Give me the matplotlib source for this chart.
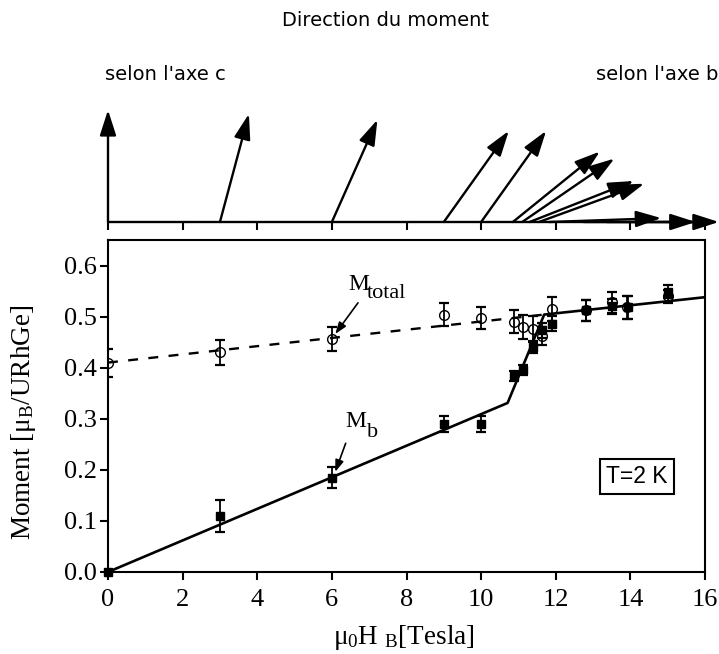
import matplotlib
matplotlib.use("Agg")
import matplotlib.pyplot as plt
import numpy as np

plt.rcParams['mathtext.fontset'] = 'custom'
plt.rcParams['mathtext.rm'] = 'Liberation Serif'
plt.rcParams['mathtext.it'] = 'Liberation Serif:italic'
plt.rcParams['mathtext.bf'] = 'Liberation Serif:bold'

# ---------------- data ----------------
field_total = [0, 3, 6, 9, 10, 10.87, 11.12, 11.38, 11.62, 11.89, 12.8, 13.52, 13.92, 15.0]
m_total = [0.409, 0.430, 0.456, 0.504, 0.497, 0.490, 0.480, 0.476, 0.462, 0.515, 0.512, 0.528, 0.518, 0.540]
err_total = [0.027, 0.025, 0.024, 0.023, 0.022, 0.023, 0.023, 0.025, 0.017, 0.023, 0.020, 0.020, 0.022, 0.013]

field_b = [0, 3, 6, 9, 10, 10.87, 11.12, 11.38, 11.62, 11.89, 12.82, 13.52, 13.93, 15.02]
m_b = [0.0, 0.109, 0.185, 0.290, 0.290, 0.383, 0.395, 0.441, 0.473, 0.486, 0.512, 0.520, 0.518, 0.549]
err_b = [0.0, 0.031, 0.020, 0.016, 0.016, 0.010, 0.010, 0.012, 0.015, 0.015, 0.021, 0.015, 0.022, 0.012]

fit_b_x = [0, 10.71, 11.69, 16]
fit_b_y = [0, 0.331, 0.504, 0.538]
fit_tot_x = [0, 11.69]
fit_tot_y = [0.41, 0.504]

# moment direction arrows (field, angle from b axis in degrees)
arrow_field = [0, 3, 6, 9, 10, 10.85, 11.1, 11.3, 11.55, 11.83, 12.75, 13.37]
arrow_angle = [90, 75, 66, 54.5, 54.5, 39, 34.5, 21.5, 20, 2, 0, 0]
arrow_len = 3.0

xticks = [0, 2, 4, 6, 8, 10, 12, 14, 16]
yticks = [0.0, 0.1, 0.2, 0.3, 0.4, 0.5, 0.6]
ytick_labels = ["0.0", "0.1", "0.2", "0.3", "0.4", "0.5", "0.6"]

# ---------------- figure ----------------
W, H = 719, 654
fig = plt.figure(figsize=(W / 100, H / 100), dpi=100)

ax_l, ax_r, ax_t, ax_b = 108, 705, 240, 572
ax = fig.add_axes([ax_l / W, 1 - ax_b / H, (ax_r - ax_l) / W, (ax_b - ax_t) / H])

serif = 'Liberation Serif'

ax.plot(fit_tot_x, fit_tot_y, color='black', lw=1.7, dashes=(4.2, 4.4), zorder=1)
ax.plot(fit_b_x, fit_b_y, color='black', lw=1.9, zorder=1)

ax.errorbar(field_total, m_total, yerr=err_total, fmt='none', ecolor='black',
            elinewidth=1.3, capsize=3.3, capthick=1.6, zorder=2)
ax.errorbar(field_b, m_b, yerr=err_b, fmt='none', ecolor='black',
            elinewidth=1.3, capsize=3.3, capthick=1.6, zorder=2)
ax.plot(field_total, m_total, 'o', mfc='none', mec='black', mew=1.0, ms=7, zorder=3)
ax.plot(field_b, m_b, 's', color='black', ms=6.2, zorder=4, clip_on=False)

ax.set_xlim(0, 16)
ax.set_ylim(0, 0.65)
ax.set_xticks(xticks)
ax.set_xticklabels([str(t) for t in xticks])
ax.set_yticks(yticks)
ax.set_yticklabels(ytick_labels)
for s in ax.spines.values():
    s.set_linewidth(1.5)
ax.tick_params(direction='out', length=6, width=1.5, labelsize=19, pad=2)
ax.tick_params(axis='x', pad=6)
for lab in ax.get_xticklabels() + ax.get_yticklabels():
    lab.set_fontfamily(serif)

ax.set_ylabel("Moment [μ$_{\\rm B}$/URhGe]", fontsize=19.5, family=serif)
ax.yaxis.set_label_coords(-0.118, 0.45)
ax.set_xlabel("μ$_{\\rm 0}$H $_{\\rm B}$[Tesla]", fontsize=19.5, family=serif)
ax.xaxis.set_label_coords(0.496, -0.155)

# annotations
ax.text(6.43, 0.553, "M", fontsize=17, family=serif, ha='left', va='baseline')
ax.text(6.94, 0.537, "total", fontsize=16, family=serif, ha='left', va='baseline')
ax.annotate('', xy=(6.09, 0.466), xytext=(6.70, 0.527),
            arrowprops=dict(arrowstyle='-|>,head_length=0.7,head_width=0.25',
                            color='black', lw=1.2, shrinkA=0, shrinkB=0))
ax.text(6.35, 0.283, "M", fontsize=17, family=serif, ha='left', va='baseline')
ax.text(6.94, 0.264, "b", fontsize=16, family=serif, ha='left', va='baseline')
ax.annotate('', xy=(6.09, 0.196), xytext=(6.37, 0.252),
            arrowprops=dict(arrowstyle='-|>,head_length=0.7,head_width=0.25',
                            color='black', lw=1.2, shrinkA=0, shrinkB=0))

ax.text(14.18, 0.1875, "T=2 K", fontsize=16.5, family='Liberation Sans', ha='center', va='center',
        bbox=dict(boxstyle='square,pad=0.26', fc='white', ec='black', lw=1.5))

# ---------------- top arrow panel ----------------
ppu = (ax_r - ax_l) / 16.0
top_px, bot_px, base_px = 92, 232, 222
axt = fig.add_axes([ax_l / W, 1 - bot_px / H, (ax_r - ax_l) / W, (bot_px - top_px) / H])
axt.set_xlim(0, 16)
axt.set_ylim(-(bot_px - base_px) / ppu, (base_px - top_px) / ppu)
axt.axis('off')
axt.plot([0, 16], [0, 0], color='black', lw=1.7, solid_capstyle='butt', clip_on=False)
axt.vlines(xticks, -8 / ppu, 0, color='black', lw=1.5, clip_on=False)
for xf, ang in zip(arrow_field, arrow_angle):
    th = np.deg2rad(ang)
    axt.annotate('', xy=(xf + arrow_len * np.cos(th), arrow_len * np.sin(th)), xytext=(xf, 0),
                 xycoords='data', annotation_clip=False,
                 arrowprops=dict(arrowstyle='-|>,head_length=1.55,head_width=0.5',
                                 color='black', lw=1.7, shrinkA=0, shrinkB=0))

fig.text(386 / W, 1 - 26 / H, "Direction du moment", fontsize=14, family='DejaVu Sans',
         ha='center', va='baseline')
fig.text(105 / W, 1 - 80 / H, "selon l'axe c", fontsize=14, family='DejaVu Sans',
         ha='left', va='baseline')
fig.text(596 / W, 1 - 80 / H, "selon l'axe b", fontsize=14, family='DejaVu Sans',
         ha='left', va='baseline')

fig.savefig("out.png", dpi=100)
